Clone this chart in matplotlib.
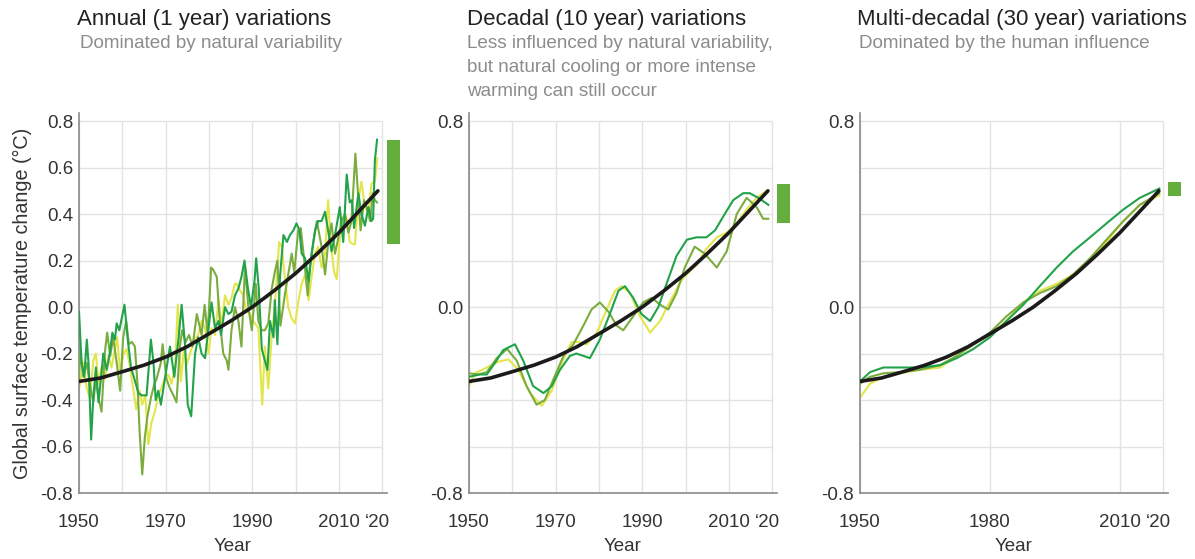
import matplotlib
matplotlib.use("Agg")
import matplotlib.pyplot as plt

plt.rcParams['font.family'] = ['Liberation Sans', 'DejaVu Sans']

# ---- data ----
trend_yr = [1950, 1955, 1960, 1965, 1970, 1975, 1980, 1985, 1990, 1995, 2000, 2005, 2010, 2015, 2019]
trend_val = [-0.32, -0.305, -0.278, -0.25, -0.215, -0.17, -0.115, -0.06, 0.0, 0.07, 0.145, 0.23, 0.32, 0.42, 0.50]

# annual panel
ann_green_yr = [1950.0, 1950.6, 1951.2, 1951.8, 1952.2, 1952.8, 1953.3, 1953.9, 1954.5, 1955.1, 1955.6, 1956.4,
                1957.2, 1957.7, 1958.3, 1958.7, 1959.3, 1960.5, 1961.2, 1962.0, 1962.8, 1963.7, 1964.5, 1965.6,
                1966.6, 1967.2, 1967.7, 1968.3, 1968.9, 1969.9, 1971.0, 1972.0, 1973.0, 1973.7, 1974.5, 1975.1,
                1975.9, 1976.8, 1977.5, 1978.3, 1979.1, 1979.9, 1980.6, 1981.4, 1982.2, 1982.8, 1983.7, 1984.5,
                1985.2, 1986.0, 1986.8, 1987.5, 1988.2, 1989.0, 1989.7, 1990.5, 1990.9, 1991.5, 1992.2, 1992.9,
                1993.5, 1994.1, 1994.9, 1995.2, 1995.8, 1996.4, 1997.2, 1998.0, 1998.7, 1999.5, 2000.2, 2000.9,
                2001.4, 2002.2, 2003.0, 2003.7, 2004.5, 2005.2, 2006.0, 2006.8, 2007.5, 2008.3, 2009.1, 2010.2,
                2011.0, 2011.8, 2012.5, 2013.0, 2013.5, 2014.5, 2015.2, 2016.0, 2016.8, 2017.5, 2017.9, 2018.3,
                2018.8]
ann_green = [-0.02, -0.24, -0.30, -0.14, -0.24, -0.57, -0.39, -0.26, -0.41, -0.30, -0.20, -0.27,
             -0.19, -0.11, -0.14, -0.07, -0.10, 0.01, -0.13, -0.26, -0.31, -0.37, -0.38, -0.38,
             -0.14, -0.24, -0.40, -0.36, -0.42, -0.30, -0.17, -0.30, -0.13, 0.01, -0.17, -0.42,
             -0.47, -0.20, -0.13, -0.20, -0.22, -0.09, 0.02, -0.09, -0.06, -0.12, 0.00, -0.03,
             -0.02, 0.05, 0.08, 0.13, 0.20, 0.08, 0.00, 0.11, 0.21, 0.08, -0.18, -0.23,
             -0.27, -0.06, -0.13, 0.03, -0.16, 0.13, 0.31, 0.28, 0.31, 0.33, 0.36, 0.33,
             0.23, 0.21, 0.11, 0.23, 0.33, 0.37, 0.37, 0.41, 0.33, 0.24, 0.31, 0.43,
             0.28, 0.57, 0.45, 0.46, 0.34, 0.49, 0.40, 0.35, 0.43, 0.37, 0.38, 0.63,
             0.72]

ann_olive_yr = [1950.0, 1950.3, 1951.0, 1951.8, 1952.5, 1953.3, 1953.9, 1954.5, 1955.2, 1956.0, 1956.5, 1957.2,
                1957.9, 1958.7, 1959.5, 1960.2, 1960.9, 1961.5, 1962.2, 1962.9, 1963.5, 1964.0, 1964.6, 1965.2,
                1965.8, 1966.6, 1967.4, 1967.9, 1968.9, 1969.3, 1970.2, 1971.0, 1971.8, 1972.5, 1973.3, 1973.8,
                1974.6, 1975.4, 1976.2, 1977.2, 1978.3, 1979.0, 1979.7, 1980.5, 1981.0, 1981.8, 1982.5, 1983.3,
                1984.1, 1984.5, 1985.2, 1986.0, 1986.8, 1987.5, 1988.3, 1989.1, 1989.9, 1990.8, 1991.4, 1992.2,
                1992.9, 1993.7, 1994.5, 1995.2, 1995.8, 1996.5, 1997.5, 1998.3, 1999.1, 1999.7, 2000.6, 2001.2,
                2002.0, 2002.8, 2003.3, 2004.1, 2004.9, 2005.5, 2006.0, 2006.8, 2007.5, 2008.3, 2009.1, 2009.9,
                2010.6, 2011.4, 2012.2, 2012.9, 2013.8, 2014.5, 2015.0, 2015.8, 2016.4, 2017.2, 2017.8, 2018.3,
                2018.8]
ann_olive = [-0.31, -0.19, -0.30, -0.24, -0.33, -0.41, -0.31, -0.39, -0.45, -0.19, -0.11, -0.21,
             -0.13, -0.24, -0.36, -0.13, -0.06, -0.16, -0.15, -0.17, -0.33, -0.54, -0.72, -0.56,
             -0.47, -0.39, -0.33, -0.31, -0.24, -0.16, -0.31, -0.35, -0.38, -0.41, -0.17, -0.10,
             -0.15, -0.12, -0.17, -0.03, -0.12, 0.01, -0.12, 0.17, 0.16, 0.13, -0.06, -0.20,
             -0.23, -0.27, -0.10, 0.00, -0.06, -0.17, 0.17, 0.00, -0.10, 0.10, -0.06, -0.10,
             -0.10, -0.07, 0.08, 0.15, 0.20, -0.08, 0.05, 0.14, 0.23, 0.15, 0.33, 0.34,
             0.20, 0.05, 0.17, 0.28, 0.37, 0.31, 0.26, 0.14, 0.27, 0.36, 0.23, 0.30,
             0.37, 0.40, 0.32, 0.37, 0.66, 0.46, 0.33, 0.46, 0.43, 0.37, 0.49, 0.46,
             0.45]

ann_yellow_yr = [1950.0, 1950.5, 1951.0, 1951.8, 1952.5, 1953.3, 1953.9, 1954.5, 1955.2, 1956.0, 1956.8, 1957.5,
                 1958.3, 1958.8, 1959.5, 1960.3, 1961.0, 1961.7, 1962.5, 1963.2, 1964.0, 1964.6, 1965.3, 1966.0,
                 1966.7, 1967.5, 1968.3, 1969.0, 1969.9, 1970.6, 1971.4, 1972.2, 1972.8, 1973.5, 1974.3, 1974.8,
                 1975.8, 1976.6, 1977.5, 1978.3, 1979.1, 1979.9, 1980.6, 1981.4, 1982.2, 1982.9, 1983.7, 1984.5,
                 1985.2, 1986.0, 1986.4, 1987.2, 1987.9, 1988.7, 1989.5, 1990.2, 1991.4, 1992.3, 1992.9, 1993.7,
                 1994.5, 1995.2, 1996.2, 1996.8, 1997.5, 1998.3, 1999.1, 1999.9, 2000.6, 2001.4, 2002.2, 2003.0,
                 2003.7, 2004.5, 2005.2, 2006.0, 2006.8, 2007.5, 2008.2, 2008.9, 2009.5, 2010.2, 2011.4, 2011.8,
                 2012.5, 2013.3, 2013.7, 2014.5, 2015.2, 2016.0, 2016.8, 2017.5, 2018.3, 2018.85]
ann_yellow = [-0.35, -0.30, -0.24, -0.35, -0.39, -0.23, -0.20, -0.33, -0.26, -0.31, -0.21, -0.26,
              -0.18, -0.13, -0.28, -0.20, -0.18, -0.25, -0.35, -0.44, -0.36, -0.42, -0.38, -0.59,
              -0.50, -0.45, -0.38, -0.35, -0.30, -0.29, -0.33, -0.25, 0.01, -0.32, -0.17, -0.25,
              -0.19, -0.14, -0.12, -0.06, -0.09, -0.20, -0.09, -0.12, 0.03, -0.08, 0.05, 0.01,
              0.04, 0.10, 0.10, 0.07, 0.05, -0.02, -0.03, -0.06, -0.09, -0.42, -0.17, -0.35,
              -0.12, 0.00, 0.28, 0.26, 0.13, 0.00, -0.05, -0.07, 0.02, 0.10, 0.14, 0.03,
              0.13, 0.23, 0.26, 0.17, 0.23, 0.46, 0.26, 0.15, 0.12, 0.30, 0.40, 0.38,
              0.28, 0.27, 0.27, 0.46, 0.54, 0.43, 0.40, 0.53, 0.54, 0.64]

# decadal panel
dec_green_yr = [1950.0, 1952.5, 1954.1, 1956.0, 1957.9, 1960.6, 1962.5, 1964.8, 1967.2, 1969.1, 1971.0, 1973.3,
                1974.8, 1976.4, 1977.9, 1980.2, 1982.5, 1984.5, 1986.0, 1987.9, 1989.8, 1991.8, 1993.7, 1995.6,
                1997.9, 2000.3, 2002.5, 2004.8, 2006.8, 2008.7, 2011.0, 2013.3, 2014.8, 2016.8, 2019.1]
dec_green = [-0.30, -0.29, -0.29, -0.24, -0.185, -0.16, -0.23, -0.34, -0.37, -0.34, -0.27, -0.21,
             -0.20, -0.21, -0.22, -0.14, -0.03, 0.07, 0.09, 0.04, -0.03, -0.06, 0.00, 0.10,
             0.22, 0.29, 0.30, 0.30, 0.33, 0.39, 0.46, 0.49, 0.49, 0.47, 0.44]

dec_olive_yr = [1950.0, 1952.2, 1954.1, 1956.4, 1958.8, 1961.0, 1963.3, 1965.6, 1967.5, 1969.5, 1971.8, 1974.1,
                1976.4, 1978.3, 1980.2, 1982.2, 1984.1, 1985.6, 1987.9, 1990.2, 1992.2, 1994.1, 1996.0, 1997.9,
                1999.8, 2002.1, 2004.4, 2007.2, 2009.5, 2011.8, 2014.1, 2016.4, 2017.9, 2019.1]
dec_olive = [-0.285, -0.29, -0.28, -0.22, -0.18, -0.23, -0.34, -0.42, -0.40, -0.31, -0.21, -0.16,
             -0.08, -0.01, 0.02, -0.02, -0.08, -0.10, -0.04, 0.02, 0.04, 0.01, -0.01, 0.06,
             0.17, 0.26, 0.23, 0.17, 0.24, 0.40, 0.47, 0.43, 0.38, 0.38]

dec_yellow_yr = [1950.0, 1951.4, 1954.1, 1956.8, 1959.1, 1961.4, 1964.1, 1966.8, 1969.1, 1971.4, 1973.7, 1975.2,
                 1977.2, 1979.5, 1981.8, 1983.7, 1985.2, 1987.2, 1989.5, 1991.8, 1994.1, 1996.0, 1998.3, 1999.6,
                 2002.5, 2004.8, 2007.2, 2009.5, 2011.8, 2014.1, 2016.4, 2018.7, 2019.1]
dec_yellow = [-0.34, -0.285, -0.26, -0.235, -0.225, -0.27, -0.37, -0.425, -0.36, -0.24, -0.15, -0.15,
              -0.16, -0.11, -0.01, 0.07, 0.09, 0.06, -0.04, -0.11, -0.06, 0.01, 0.09, 0.13,
              0.18, 0.25, 0.30, 0.32, 0.36, 0.42, 0.47, 0.50, 0.50]

# multi-decadal panel
mdec_yr = [1950.0, 1952.3, 1955.4, 1959.2, 1963.8, 1968.5, 1972.3, 1976.2, 1980.0, 1983.8, 1987.7, 1991.5,
           1995.4, 1999.2, 2003.1, 2006.9, 2010.8, 2014.6, 2019.1]
mdec_green = [-0.32, -0.28, -0.26, -0.26, -0.26, -0.25, -0.22, -0.18, -0.13, -0.06, 0.01, 0.09,
              0.17, 0.24, 0.30, 0.36, 0.42, 0.47, 0.51]
mdec_olive = [-0.33, -0.30, -0.285, -0.28, -0.27, -0.25, -0.21, -0.16, -0.11, -0.04, 0.02, 0.06,
              0.09, 0.14, 0.21, 0.29, 0.37, 0.44, 0.49]
mdec_yellow = [-0.39, -0.33, -0.30, -0.285, -0.27, -0.26, -0.21, -0.16, -0.12, -0.06, 0.02, 0.07,
               0.10, 0.14, 0.20, 0.28, 0.37, 0.44, 0.48]

# observed range bars (bottom, top)
bar_ranges = [(0.271, 0.718), (0.361, 0.529), (0.48, 0.537)]

titles = ['Annual (1 year) variations', 'Decadal (10 year) variations', 'Multi-decadal (30 year) variations']
subtitles = [['Dominated by natural variability'],
             ['Less influenced by natural variability,', 'but natural cooling or more intense',
              'warming can still occur'],
             ['Dominated by the human influence']]

c_green = '#22a34a'
c_olive = '#7bac3e'
c_yellow = '#e3e64a'
c_black = '#1c1a1a'
c_bar = '#63ae3c'

W, H = 1195, 559
fig = plt.figure(figsize=(W / 100, H / 100), dpi=100)

ax_left = [79, 469, 860]
ax_w = 308
ax_bottom = 493
ax_top = 113

panels = [
    (ann_green_yr, ann_green, ann_olive_yr, ann_olive, ann_yellow_yr, ann_yellow),
    (dec_green_yr, dec_green, dec_olive_yr, dec_olive, dec_yellow_yr, dec_yellow),
    (mdec_yr, mdec_green, mdec_yr, mdec_olive, mdec_yr, mdec_yellow),
]
title_x = [77, 467, 857]
sub_x = [80, 467, 859]

for i in range(3):
    ax = fig.add_axes([ax_left[i] / W, (H - ax_bottom) / H, ax_w / W, (ax_bottom - ax_top) / H])
    gy, g, oy, o, yy, y = panels[i]

    if i == 2:
        vgrid = [1950, 1980, 2010, 2020]
    else:
        vgrid = list(range(1950, 2021, 10))
    hgrid = [-0.8, -0.6, -0.4, -0.2, 0.0, 0.2, 0.4, 0.6, 0.8]
    ax.vlines(vgrid, -0.8, 0.8, color='#e3e3e3', lw=1.0, zorder=0)
    ax.hlines(hgrid, 1950, 2020, color='#e3e3e3', lw=1.0, zorder=0)

    ax.plot(yy, y, color=c_yellow, lw=1.5, zorder=2)
    ax.plot(oy, o, color=c_olive, lw=1.5, zorder=3)
    ax.plot(gy, g, color=c_green, lw=1.5, zorder=4)
    ax.plot(trend_yr, trend_val, color=c_black, lw=2.6, zorder=5, solid_capstyle='round')

    lo, hi = bar_ranges[i]
    ax.bar([2022.5], [hi - lo], bottom=[lo], width=3.0, color=c_bar, clip_on=False, zorder=6)

    ax.set_xlim(1950, 2021.1)
    ax.set_ylim(-0.8, 0.835)

    if i == 2:
        xt = [1950, 1980, 2010, 2019]
        xl = ['1950', '1980', '2010', '\u201820']
    else:
        xt = [1950, 1970, 1990, 2010, 2019]
        xl = ['1950', '1970', '1990', '2010', '\u201820']
    ax.set_xticks(xt)
    ax.set_xticklabels(xl)
    if i == 0:
        yt = [-0.8, -0.6, -0.4, -0.2, 0.0, 0.2, 0.4, 0.6, 0.8]
    else:
        yt = [-0.8, 0.0, 0.8]
    ax.set_yticks(yt)
    ax.set_yticklabels(['%.1f' % v for v in yt])

    ax.tick_params(axis='x', length=0, pad=15, labelsize=13.5, labelcolor='#333333')
    ax.tick_params(axis='y', length=0, pad=4.3, labelsize=13.5, labelcolor='#333333')
    for s in ['top', 'right']:
        ax.spines[s].set_visible(False)
    for s in ['left', 'bottom']:
        ax.spines[s].set_color('#8a8a8a')
        ax.spines[s].set_linewidth(1.2)
    ax.set_xlabel('Year', fontsize=13.5, color='#333333', labelpad=5.5)
    ax.patch.set_alpha(0)

    fig.text(title_x[i] / W, 1 - 19 / H, titles[i], fontsize=16, color='#222222', va='center', ha='left')
    for k, line in enumerate(subtitles[i]):
        fig.text(sub_x[i] / W, 1 - (43 + 24 * k) / H, line, fontsize=13.6, color='#8c8c8c',
                 va='center', ha='left')

fig.text(22 / W, 1 - 303 / H, 'Global surface temperature change (\u00b0C)', rotation=90,
         fontsize=14.2, color='#333333', ha='center', va='center')

fig.savefig('out.png', dpi=100)
